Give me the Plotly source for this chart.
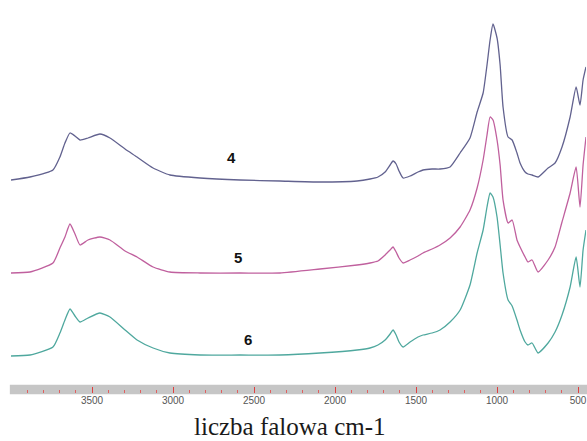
import plotly.graph_objects as go

# wavenumber (cm-1)
wavenumber = [4000, 3883, 3741, 3698, 3667, 3636, 3605, 3574, 3525, 3451,
              3389, 3296, 3222, 3123, 3019, 2833, 2586, 2340, 2093, 1864,
              1784, 1735, 1691, 1660, 1642, 1623, 1605, 1580, 1537, 1488,
              1457, 1401, 1352, 1290, 1228, 1167, 1123, 1086, 1062, 1043,
              1025, 1000, 981, 963, 932, 907, 877, 858, 827, 809,
              784, 747, 685, 642, 599, 549, 512, 488, 469, 451]

# absorbance (arbitrary units, stacked spectra)
spectrum_4 = [2.13, 2.16, 2.23, 2.36, 2.50, 2.60, 2.57, 2.53, 2.55, 2.59,
              2.55, 2.44, 2.36, 2.25, 2.18, 2.15, 2.13, 2.12, 2.11, 2.12,
              2.14, 2.16, 2.21, 2.28, 2.32, 2.29, 2.22, 2.15, 2.17, 2.21,
              2.23, 2.24, 2.24, 2.26, 2.40, 2.55, 2.81, 3.00, 3.28, 3.53,
              3.69, 3.55, 3.28, 2.86, 2.56, 2.53, 2.40, 2.30, 2.21, 2.19,
              2.18, 2.16, 2.25, 2.30, 2.46, 2.76, 3.06, 2.88, 3.13, 3.26]

spectrum_5 = [1.20, 1.21, 1.30, 1.45, 1.56, 1.69, 1.59, 1.48, 1.53, 1.56,
              1.53, 1.42, 1.36, 1.26, 1.21, 1.20, 1.20, 1.20, 1.24, 1.28,
              1.30, 1.32, 1.38, 1.43, 1.46, 1.41, 1.35, 1.30, 1.33, 1.37,
              1.40, 1.44, 1.48, 1.55, 1.66, 1.83, 2.05, 2.33, 2.58, 2.76,
              2.73, 2.53, 2.28, 1.93, 1.70, 1.73, 1.53, 1.46, 1.36, 1.31,
              1.33, 1.21, 1.33, 1.46, 1.71, 2.00, 2.26, 1.86, 2.28, 2.56]

spectrum_6 = [0.37, 0.38, 0.46, 0.60, 0.73, 0.84, 0.77, 0.71, 0.75, 0.80,
              0.76, 0.63, 0.53, 0.45, 0.40, 0.38, 0.38, 0.38, 0.40, 0.43,
              0.45, 0.48, 0.53, 0.59, 0.63, 0.58, 0.51, 0.46, 0.51, 0.56,
              0.58, 0.60, 0.63, 0.71, 0.83, 1.08, 1.40, 1.63, 1.86, 2.00,
              1.96, 1.76, 1.48, 1.20, 0.93, 0.87, 0.73, 0.63, 0.51, 0.48,
              0.50, 0.40, 0.50, 0.61, 0.78, 1.06, 1.36, 1.06, 1.43, 1.63]

series_names = ["4", "5", "6"]
series_values = [spectrum_4, spectrum_5, spectrum_6]
series_colors = ["#62628f", "#c0609e", "#4fa89e"]

# label positions (wavenumber, absorbance)
label_x = [2636, 2599, 2537]
label_y = [2.36, 1.36, 0.54]

tick_values = [4000, 3500, 3000, 2500, 2000, 1500, 1000, 500]
tick_text = ["", "3500", "3000", "2500", "2000", "1500", "1000", "500"]

fig = go.Figure()
for name, vals, col in zip(series_names, series_values, series_colors):
    fig.add_trace(go.Scatter(
        x=wavenumber, y=vals, mode="lines", name=name,
        line=dict(color=col, width=1.3, shape="spline", smoothing=0.5),
        showlegend=False, hoverinfo="skip"))

for name, lx, ly in zip(series_names, label_x, label_y):
    fig.add_annotation(x=lx, y=ly, text="<b>%s</b>" % name, showarrow=False,
                       font=dict(family="Arial, Liberation Sans", size=15, color="#111111"),
                       xanchor="center", yanchor="middle")

# grey axis band
fig.add_shape(type="rect", xref="paper", yref="paper", x0=-0.002, x1=1.01,
              y0=-0.003, y1=0.021, fillcolor="#c6c6c6", line=dict(width=0),
              layer="below")

fig.add_annotation(text="liczba falowa cm-1", xref="paper", yref="paper",
                   x=0.485, y=-0.084, showarrow=False,
                   font=dict(family="Times New Roman, Liberation Serif", size=25, color="#1a1a1a"),
                   xanchor="center", yanchor="middle")

fig.update_layout(
    width=587, height=441,
    margin=dict(l=11, r=1, t=0, b=48),
    paper_bgcolor="white", plot_bgcolor="white",
    xaxis=dict(range=[4000, 451], tickvals=tick_values, ticktext=tick_text,
               ticks="inside", ticklen=6, tickwidth=1, tickcolor="#e04040",
               showgrid=False, zeroline=False, showline=False,
               ticklabeloverflow="allow", fixedrange=True,
               tickfont=dict(family="Arial, Liberation Sans", size=10, color="#555555"),
               minor=dict(dtick=100, tick0=0, ticks="inside", ticklen=3,
                          tickwidth=1, tickcolor="#e06060", showgrid=False)),
    yaxis=dict(range=[0, 3.93], visible=False, fixedrange=True),
)

fig.write_html("out.html", config={"displayModeBar": False},
               post_script="document.body.style.margin='0';document.body.style.overflow='hidden';")
